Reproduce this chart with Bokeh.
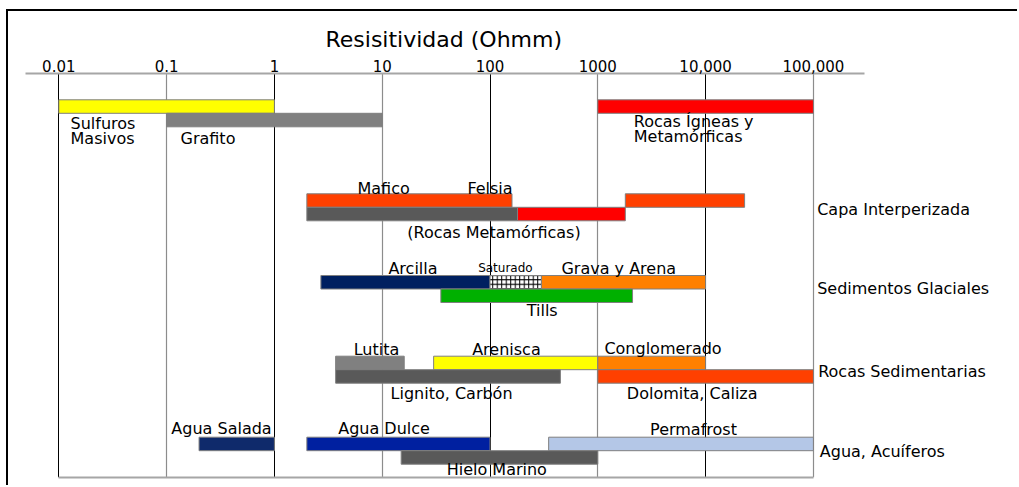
import math
from bokeh.plotting import figure
from bokeh.models import Range1d, LogAxis, FixedTicker, Grid, ColumnDataSource, Title
from bokeh.core.properties import value
from bokeh.embed import file_html
from bokeh.resources import INLINE

# ---------------- data ----------------
ticks = [0.01, 0.1, 1, 10, 100, 1000, 10000, 100000]
tick_labels = ["0.01", "0.1", "1", "10", "100", "1000", "10,000", "100,000"]
axis_title = "Resisitividad (Ohmm)"

groups = ["", "Capa Interperizada", "Sedimentos Glaciales",
          "Rocas Sedimentarias", "Agua, Acuíferos"]

bar_names = ["Sulfuros Masivos", "Rocas Ígneas y Metamórficas", "Grafito",
             "Mafico-Felsia", "Interperizada alta", "Rocas Metamórficas", "Metamórficas alta",
             "Arcilla", "Saturado", "Grava y Arena", "Tills",
             "Lutita", "Arenisca", "Conglomerado", "Lignito, Carbón", "Dolomita, Caliza",
             "Agua Salada", "Agua Dulce", "Permafrost", "Hielo Marino"]
bar_low = [0.01, 1000, 0.1,
           2, 1800, 2, 180,
           2.7, 100, 300, 35,
           3.7, 30, 1000, 3.7, 1000,
           0.2, 2, 350, 15]
bar_high = [1, 100000, 10,
            160, 23000, 180, 1800,
            100, 300, 10000, 2100,
            16, 1000, 10000, 450, 100000,
            1, 100, 100000, 1000]
bar_group = [0, 0, 0,
             1, 1, 1, 1,
             2, 2, 2, 2,
             3, 3, 3, 3, 3,
             4, 4, 4, 4]
bar_row = [0, 0, 1,
           0, 0, 1, 1,
           0, 0, 0, 1,
           0, 0, 0, 1, 1,
           0, 0, 0, 1]

# material labels: text and resistivity where they sit
label_text = ["Sulfuros", "Masivos", "Grafito", "Rocas Ígneas y", "Metamórficas",
              "Mafico", "Felsia", "(Rocas Metamórficas)",
              "Arcilla", "Grava y Arena", "Tills",
              "Lutita", "Arenisca", "Conglomerado", "Lignito, Carbón", "Dolomita, Caliza",
              "Agua Salada", "Agua Dulce", "Permafrost", "Hielo Marino"]
label_value = [0.01285, 0.01285, 0.1346, 2158, 2158,
               10.3, 100, 108.9,
               19.3, 1566, 305,
               8.85, 142, 4027, 44, 7510,
               0.323, 10.4, 7720, 115.6]

# ---------------- style / layout ----------------
COLORS = {
    "Sulfuros Masivos": "#FFFF00", "Rocas Ígneas y Metamórficas": "#FF0000",
    "Grafito": "#808080", "Mafico-Felsia": "#FF4000", "Interperizada alta": "#FF4000",
    "Rocas Metamórficas": "#595959", "Metamórficas alta": "#FF0000",
    "Arcilla": "#002060", "Saturado": "#FFFFFF", "Grava y Arena": "#FF8000",
    "Tills": "#00B000", "Lutita": "#808080", "Arenisca": "#FFFF00",
    "Conglomerado": "#FF8000", "Lignito, Carbón": "#595959",
    "Dolomita, Caliza": "#FF4000", "Agua Salada": "#0F2A6B",
    "Agua Dulce": "#0020A0", "Permafrost": "#B4C7E7", "Hielo Marino": "#595959",
}
FONT = "DejaVu Sans"
W, H = 1011, 476
OX = 8                       # canvas left in reference pixels
DEC_PX = 107.8               # pixels per decade
X001 = 58.3                  # pixel of 0.01


def px2val(px):
    return 10 ** (-2 + (px - X001) / DEC_PX)


GROUP_TOP = [99.3, 193.3, 275.0, 355.7, 436.7]
BAR_H = 13.5
GROUP_LABEL_Y = [None, 208.8, 288.3, 370.8, 450.7]
GROUP_LABEL_X = [None, 108400, 108400, 110700, 114600]
LABEL_Y = [122.5, 137.5, 138.0, 121.3, 136.3,
           188.3, 188.3, 231.7,
           268.0, 267.5, 309.7,
           349.0, 349.0, 348.0, 392.7, 392.5,
           428.3, 428.3, 428.5, 469.2]
LABEL_ALIGN = ["left", "left", "left", "left", "left",
               "center", "center", "center",
               "center", "center", "center",
               "center", "center", "center", "center", "center",
               "center", "center", "center", "center"]

p = figure(width=W, height=H, x_axis_type="log",
           x_range=Range1d(px2val(OX), px2val(OX + W)),
           y_range=Range1d(477, 73),
           output_backend="svg", toolbar_location=None,
           x_axis_location=None, y_axis_location=None,
           min_border_left=0, min_border_right=0,
           min_border_top=62, min_border_bottom=10)
p.outline_line_color = None
p.center = [r for r in p.center if not isinstance(r, Grid)]
p.styles = {"border-top": "2px solid black", "border-left": "2px solid black",
            "margin-left": "6px", "margin-top": "9px"}

# top axis
top_ax = LogAxis(bounds=(px2val(25), px2val(864)),
                 ticker=FixedTicker(ticks=ticks, minor_ticks=[]),
                 major_label_overrides={t: l for t, l in zip(ticks, tick_labels)})
top_ax.axis_line_color = "#A6A6A6"
top_ax.axis_line_width = 2
top_ax.major_tick_line_color = None
top_ax.minor_tick_line_color = None
top_ax.major_tick_out = 0
top_ax.major_tick_in = 0
top_ax.major_label_standoff = 2
top_ax.major_label_text_font = FONT
top_ax.major_label_text_font_size = "15px"
top_ax.major_label_text_color = "#000000"
p.add_layout(top_ax, "above")

# axis title, centred over the 0.01 - 100,000 span
p.add_layout(Title(text=axis_title, align="left", offset=317,
                   text_font=FONT, text_font_size="22px", text_font_style="normal",
                   text_color="#000000", standoff=9), "above")

# bottom rule
bot_ax = LogAxis(bounds=(ticks[0], ticks[-1]), ticker=FixedTicker(ticks=[], minor_ticks=[]))
bot_ax.axis_line_color = "#A6A6A6"
bot_ax.axis_line_width = 2
bot_ax.major_tick_line_color = None
bot_ax.minor_tick_line_color = None
bot_ax.major_label_text_font_size = "0px"
p.add_layout(bot_ax, "below")

# vertical decade lines
g1 = Grid(dimension=0, ticker=FixedTicker(ticks=ticks[0::2]),
          grid_line_color="#000000", grid_line_width=1)
g2 = Grid(dimension=0, ticker=FixedTicker(ticks=ticks[1::2]),
          grid_line_color="#8C8C8C", grid_line_width=1.2)
p.add_layout(g1)
p.add_layout(g2)

# bars
tops = [GROUP_TOP[g] + r * BAR_H for g, r in zip(bar_group, bar_row)]
src = ColumnDataSource(dict(
    left=bar_low, right=bar_high, top=tops, bottom=[t + BAR_H for t in tops],
    color=[COLORS[n] for n in bar_names],
    hatch=["cross" if n == "Saturado" else " " for n in bar_names],
    name=bar_names))
p.quad(left="left", right="right", top="top", bottom="bottom", source=src,
       fill_color="color", line_color="#7F7F7F", line_width=1,
       hatch_pattern="hatch", hatch_color="#000000", hatch_scale=4.5, hatch_weight=1)

# material labels
lsrc = ColumnDataSource(dict(x=label_value, y=LABEL_Y, text=label_text, align=LABEL_ALIGN))
p.text(x="x", y="y", text="text", source=lsrc, text_align="align",
       text_baseline="middle", text_font=value(FONT), text_font_size="16px",
       text_color="#000000")

# saturated-zone label (smaller)
sat_i = bar_names.index("Saturado")
p.text(x=[139], y=[267.5], text=[bar_names[sat_i]], text_align="center",
       text_baseline="middle", text_font=value(FONT), text_font_size="12px",
       text_color="#000000")

# group labels
gsrc = ColumnDataSource(dict(x=GROUP_LABEL_X[1:], y=GROUP_LABEL_Y[1:], text=groups[1:]))
p.text(x="x", y="y", text="text", source=gsrc, text_align="left",
       text_baseline="middle", text_font=value(FONT), text_font_size="16px",
       text_color="#000000")

open("out.html", "w").write(file_html(p, INLINE))
